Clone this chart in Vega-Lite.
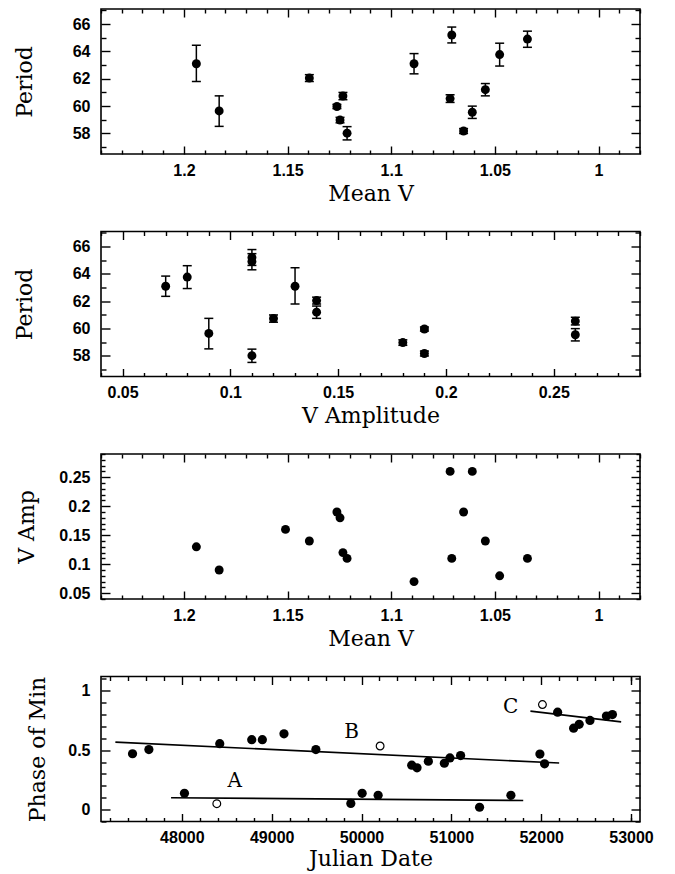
{
  "$schema": "https://vega.github.io/schema/vega-lite/v6.json",
  "padding": {"left": 12, "top": 7, "right": 5, "bottom": 0},
  "background": "white",
  "spacing": 77.5,
  "bounds": "flush",
  "config": {
    "view": {"stroke": "black", "strokeWidth": 1.6},
    "axis": {
      "labelFont": "Liberation Sans", "labelFontWeight": "bold", "labelFontSize": 16, "labelColor": "black",
      "titleFont": "DejaVu Serif", "titleFontWeight": "normal", "titleFontSize": 22, "titleColor": "black",
      "tickColor": "black", "tickWidth": 1.4, "grid": false, "domain": false,
      "labelOverlap": false, "labelFlush": false, "format": "~g"
    }
  },
  "datasets": {
    "stars": [
      {"mv": 1.194, "amp": 0.13, "P": 63.1, "Plo": 61.8, "Phi": 64.45},
      {"mv": 1.183, "amp": 0.09, "P": 59.65, "Plo": 58.52, "Phi": 60.75},
      {"mv": 1.151, "amp": 0.16, "P": null, "Plo": null, "Phi": null},
      {"mv": 1.1395, "amp": 0.14, "P": 62.05, "Plo": 61.8, "Phi": 62.3},
      {"mv": 1.1262, "amp": 0.19, "P": 59.97, "Plo": 59.82, "Phi": 60.12},
      {"mv": 1.1247, "amp": 0.18, "P": 58.98, "Plo": 58.78, "Phi": 59.18},
      {"mv": 1.1233, "amp": 0.12, "P": 60.74, "Plo": 60.47, "Phi": 61.0},
      {"mv": 1.1213, "amp": 0.11, "P": 58.02, "Plo": 57.53, "Phi": 58.5},
      {"mv": 1.089, "amp": 0.07, "P": 63.1, "Plo": 62.36, "Phi": 63.84},
      {"mv": 1.0708, "amp": 0.11, "P": 65.2, "Plo": 64.62, "Phi": 65.78},
      {"mv": 1.0716, "amp": 0.26, "P": 60.55, "Plo": 60.27, "Phi": 60.83},
      {"mv": 1.0651, "amp": 0.19, "P": 58.18, "Plo": 58.0, "Phi": 58.36},
      {"mv": 1.0609, "amp": 0.26, "P": 59.55, "Plo": 59.1, "Phi": 60.0},
      {"mv": 1.0546, "amp": 0.14, "P": 61.2, "Plo": 60.75, "Phi": 61.65},
      {"mv": 1.0477, "amp": 0.08, "P": 63.77, "Plo": 62.93, "Phi": 64.6},
      {"mv": 1.0343, "amp": 0.11, "P": 64.9, "Plo": 64.3, "Phi": 65.48}
    ],
    "phase": [
      {"jd": 47451, "ph": 0.47, "kind": "filled"},
      {"jd": 47633, "ph": 0.505, "kind": "filled"},
      {"jd": 48029, "ph": 0.137, "kind": "filled"},
      {"jd": 48422, "ph": 0.555, "kind": "filled"},
      {"jd": 48778, "ph": 0.588, "kind": "filled"},
      {"jd": 48896, "ph": 0.588, "kind": "filled"},
      {"jd": 49137, "ph": 0.638, "kind": "filled"},
      {"jd": 49492, "ph": 0.505, "kind": "filled"},
      {"jd": 49881, "ph": 0.052, "kind": "filled"},
      {"jd": 50007, "ph": 0.137, "kind": "filled"},
      {"jd": 50185, "ph": 0.12, "kind": "filled"},
      {"jd": 50559, "ph": 0.374, "kind": "filled"},
      {"jd": 50618, "ph": 0.352, "kind": "filled"},
      {"jd": 50744, "ph": 0.407, "kind": "filled"},
      {"jd": 50922, "ph": 0.39, "kind": "filled"},
      {"jd": 50984, "ph": 0.435, "kind": "filled"},
      {"jd": 51103, "ph": 0.455, "kind": "filled"},
      {"jd": 51314, "ph": 0.02, "kind": "filled"},
      {"jd": 51663, "ph": 0.12, "kind": "filled"},
      {"jd": 51986, "ph": 0.467, "kind": "filled"},
      {"jd": 52038, "ph": 0.385, "kind": "filled"},
      {"jd": 52183, "ph": 0.82, "kind": "filled"},
      {"jd": 52361, "ph": 0.685, "kind": "filled"},
      {"jd": 52423, "ph": 0.718, "kind": "filled"},
      {"jd": 52543, "ph": 0.75, "kind": "filled"},
      {"jd": 52726, "ph": 0.787, "kind": "filled"},
      {"jd": 52793, "ph": 0.8, "kind": "filled"},
      {"jd": 48389, "ph": 0.05, "kind": "open"},
      {"jd": 50207, "ph": 0.535, "kind": "open"},
      {"jd": 52014, "ph": 0.884, "kind": "open"}
    ],
    "fits": [
      {"jd": 47880, "ph": 0.1, "seg": "A"},
      {"jd": 51800, "ph": 0.077, "seg": "A"},
      {"jd": 47260, "ph": 0.568, "seg": "B"},
      {"jd": 52200, "ph": 0.392, "seg": "B"},
      {"jd": 51880, "ph": 0.829, "seg": "C"},
      {"jd": 52890, "ph": 0.738, "seg": "C"}
    ],
    "tags": [
      {"jd": 48589, "ph": 0.243, "txt": "A"},
      {"jd": 49889, "ph": 0.657, "txt": "B"},
      {"jd": 51660, "ph": 0.86, "txt": "C"}
    ]
  },
  "vconcat": [
    {
      "width": 539, "height": 145,
      "data": {"name": "stars"},
      "layer": [
        {
          "mark": {"type": "rule", "strokeWidth": 1.5, "color": "black"},
          "encoding": {
            "x": {"field": "mv", "type": "quantitative", "scale": {"domain": [0.98, 1.24], "reverse": true, "nice": false, "zero": false},
              "axis": {"orient": "bottom", "title": "Mean V", "values": [1.0, 1.05, 1.1, 1.15, 1.2], "tickSize": -8, "labelPadding": 16, "titleY": 46, "titleBaseline": "alphabetic"}},
            "y": {"field": "Plo", "type": "quantitative", "scale": {"domain": [56.5, 67.1], "nice": false, "zero": false},
              "axis": {"orient": "left", "title": "Period", "values": [58, 60, 62, 64, 66], "tickSize": -9, "labelPadding": 20, "titleX": -77, "titleBaseline": "middle"}},
            "y2": {"field": "Phi"}
          }
        },
        {
          "mark": {"type": "tick", "orient": "horizontal", "size": 9, "thickness": 1.5, "color": "black", "opacity": 1},
          "encoding": {
            "x": {"field": "mv", "type": "quantitative",
              "axis": {"orient": "bottom", "title": null, "labels": false, "values": [0.98,0.99,1.01,1.02,1.03,1.04,1.06,1.07,1.08,1.09,1.11,1.12,1.13,1.14,1.16,1.17,1.18,1.19,1.21,1.22,1.23,1.24], "tickSize": -4}},
            "y": {"field": "Plo", "type": "quantitative",
              "axis": {"orient": "left", "title": null, "labels": false, "values": [57, 59, 61, 63, 65, 67], "tickSize": -5}}
          }
        },
        {
          "mark": {"type": "tick", "orient": "horizontal", "size": 9, "thickness": 1.5, "color": "black", "opacity": 1},
          "encoding": {
            "x": {"field": "mv", "type": "quantitative",
              "axis": {"orient": "top", "title": null, "labels": false, "values": [1.0, 1.05, 1.1, 1.15, 1.2], "tickSize": -8}},
            "y": {"field": "Phi", "type": "quantitative",
              "axis": {"orient": "right", "title": null, "labels": false, "values": [58, 60, 62, 64, 66], "tickSize": -9}}
          }
        },
        {
          "mark": {"type": "circle", "size": 80, "color": "black", "opacity": 1},
          "encoding": {
            "x": {"field": "mv", "type": "quantitative",
              "axis": {"orient": "top", "title": null, "labels": false, "values": [0.98,0.99,1.01,1.02,1.03,1.04,1.06,1.07,1.08,1.09,1.11,1.12,1.13,1.14,1.16,1.17,1.18,1.19,1.21,1.22,1.23,1.24], "tickSize": -4}},
            "y": {"field": "P", "type": "quantitative",
              "axis": {"orient": "right", "title": null, "labels": false, "values": [57, 59, 61, 63, 65, 67], "tickSize": -5}}
          }
        }
      ],
      "resolve": {"axis": {"x": "independent", "y": "independent"}}
    },
    {
      "width": 539, "height": 145,
      "data": {"name": "stars"},
      "layer": [
        {
          "mark": {"type": "rule", "strokeWidth": 1.5, "color": "black"},
          "encoding": {
            "x": {"field": "amp", "type": "quantitative", "scale": {"domain": [0.04, 0.29], "nice": false, "zero": false},
              "axis": {"orient": "bottom", "title": "V Amplitude", "values": [0.05, 0.1, 0.15, 0.2, 0.25], "tickSize": -8, "labelPadding": 16, "titleY": 46, "titleBaseline": "alphabetic"}},
            "y": {"field": "Plo", "type": "quantitative", "scale": {"domain": [56.5, 67.1], "nice": false, "zero": false},
              "axis": {"orient": "left", "title": "Period", "values": [58, 60, 62, 64, 66], "tickSize": -9, "labelPadding": 20, "titleX": -77, "titleBaseline": "middle"}},
            "y2": {"field": "Phi"}
          }
        },
        {
          "mark": {"type": "tick", "orient": "horizontal", "size": 9, "thickness": 1.5, "color": "black", "opacity": 1},
          "encoding": {
            "x": {"field": "amp", "type": "quantitative",
              "axis": {"orient": "bottom", "title": null, "labels": false, "values": [0.04,0.06,0.07,0.08,0.09,0.11,0.12,0.13,0.14,0.16,0.17,0.18,0.19,0.21,0.22,0.23,0.24,0.26,0.27,0.28,0.29], "tickSize": -4}},
            "y": {"field": "Plo", "type": "quantitative",
              "axis": {"orient": "left", "title": null, "labels": false, "values": [57, 59, 61, 63, 65, 67], "tickSize": -5}}
          }
        },
        {
          "mark": {"type": "tick", "orient": "horizontal", "size": 9, "thickness": 1.5, "color": "black", "opacity": 1},
          "encoding": {
            "x": {"field": "amp", "type": "quantitative",
              "axis": {"orient": "top", "title": null, "labels": false, "values": [0.05, 0.1, 0.15, 0.2, 0.25], "tickSize": -8}},
            "y": {"field": "Phi", "type": "quantitative",
              "axis": {"orient": "right", "title": null, "labels": false, "values": [58, 60, 62, 64, 66], "tickSize": -9}}
          }
        },
        {
          "mark": {"type": "circle", "size": 80, "color": "black", "opacity": 1},
          "encoding": {
            "x": {"field": "amp", "type": "quantitative",
              "axis": {"orient": "top", "title": null, "labels": false, "values": [0.04,0.06,0.07,0.08,0.09,0.11,0.12,0.13,0.14,0.16,0.17,0.18,0.19,0.21,0.22,0.23,0.24,0.26,0.27,0.28,0.29], "tickSize": -4}},
            "y": {"field": "P", "type": "quantitative",
              "axis": {"orient": "right", "title": null, "labels": false, "values": [57, 59, 61, 63, 65, 67], "tickSize": -5}}
          }
        }
      ],
      "resolve": {"axis": {"x": "independent", "y": "independent"}}
    },
    {
      "width": 539, "height": 145,
      "data": {"name": "stars"},
      "layer": [
        {
          "mark": {"type": "circle", "size": 80, "color": "black", "opacity": 1},
          "encoding": {
            "x": {"field": "mv", "type": "quantitative", "scale": {"domain": [0.98, 1.24], "reverse": true, "nice": false, "zero": false},
              "axis": {"orient": "bottom", "title": "Mean V", "values": [1.0, 1.05, 1.1, 1.15, 1.2], "tickSize": -8, "labelPadding": 16, "titleY": 46, "titleBaseline": "alphabetic"}},
            "y": {"field": "amp", "type": "quantitative", "scale": {"domain": [0.04, 0.29], "nice": false, "zero": false},
              "axis": {"orient": "left", "title": "V Amp", "values": [0.05, 0.1, 0.15, 0.2, 0.25], "tickSize": -9, "labelPadding": 20, "titleX": -75, "titleBaseline": "middle"}}
          }
        },
        {
          "mark": {"type": "circle", "size": 80, "color": "black", "opacity": 0},
          "encoding": {
            "x": {"field": "mv", "type": "quantitative",
              "axis": {"orient": "bottom", "title": null, "labels": false, "values": [0.98,0.99,1.01,1.02,1.03,1.04,1.06,1.07,1.08,1.09,1.11,1.12,1.13,1.14,1.16,1.17,1.18,1.19,1.21,1.22,1.23,1.24], "tickSize": -4}},
            "y": {"field": "amp", "type": "quantitative",
              "axis": {"orient": "left", "title": null, "labels": false, "values": [0.04,0.06,0.07,0.08,0.09,0.11,0.12,0.13,0.14,0.16,0.17,0.18,0.19,0.21,0.22,0.23,0.24,0.26,0.27,0.28,0.29], "tickSize": -4}}
          }
        },
        {
          "mark": {"type": "circle", "size": 80, "color": "black", "opacity": 0},
          "encoding": {
            "x": {"field": "mv", "type": "quantitative",
              "axis": {"orient": "top", "title": null, "labels": false, "values": [1.0, 1.05, 1.1, 1.15, 1.2], "tickSize": -8}},
            "y": {"field": "amp", "type": "quantitative",
              "axis": {"orient": "right", "title": null, "labels": false, "values": [0.05, 0.1, 0.15, 0.2, 0.25], "tickSize": -9}}
          }
        },
        {
          "mark": {"type": "circle", "size": 80, "color": "black", "opacity": 0},
          "encoding": {
            "x": {"field": "mv", "type": "quantitative",
              "axis": {"orient": "top", "title": null, "labels": false, "values": [0.98,0.99,1.01,1.02,1.03,1.04,1.06,1.07,1.08,1.09,1.11,1.12,1.13,1.14,1.16,1.17,1.18,1.19,1.21,1.22,1.23,1.24], "tickSize": -4}},
            "y": {"field": "amp", "type": "quantitative",
              "axis": {"orient": "right", "title": null, "labels": false, "values": [0.04,0.06,0.07,0.08,0.09,0.11,0.12,0.13,0.14,0.16,0.17,0.18,0.19,0.21,0.22,0.23,0.24,0.26,0.27,0.28,0.29], "tickSize": -4}}
          }
        }
      ],
      "resolve": {"axis": {"x": "independent", "y": "independent"}}
    },
    {
      "width": 539, "height": 145,
      "layer": [
        {
          "data": {"name": "fits"},
          "mark": {"type": "line", "strokeWidth": 1.6, "color": "black"},
          "encoding": {
            "x": {"field": "jd", "type": "quantitative", "scale": {"domain": [47100, 53100], "nice": false, "zero": false},
              "axis": {"orient": "bottom", "title": "Julian Date", "format": "d", "values": [48000, 49000, 50000, 51000, 52000, 53000], "tickSize": -8, "labelPadding": 16, "titleY": 44, "titleBaseline": "alphabetic"}},
            "y": {"field": "ph", "type": "quantitative", "scale": {"domain": [-0.1, 1.12], "nice": false, "zero": false},
              "axis": {"orient": "left", "title": "Phase of Min", "values": [0, 0.5, 1], "tickSize": -9, "labelPadding": 20, "titleX": -64, "titleBaseline": "middle"}},
            "detail": {"field": "seg"}
          }
        },
        {
          "data": {"name": "phase"},
          "transform": [{"filter": "datum.kind == 'filled'"}],
          "mark": {"type": "circle", "size": 85, "color": "black", "opacity": 1},
          "encoding": {
            "x": {"field": "jd", "type": "quantitative",
              "axis": {"orient": "bottom", "title": null, "labels": false, "values": [47200,47400,47600,47800,48200,48400,48600,48800,49200,49400,49600,49800,50200,50400,50600,50800,51200,51400,51600,51800,52200,52400,52600,52800,53000], "tickSize": -4}},
            "y": {"field": "ph", "type": "quantitative",
              "axis": {"orient": "left", "title": null, "labels": false, "values": [-0.1, 0.1, 0.2, 0.3, 0.4, 0.6, 0.7, 0.8, 0.9, 1.1], "tickSize": -5}}
          }
        },
        {
          "data": {"name": "phase"},
          "transform": [{"filter": "datum.kind == 'open'"}],
          "mark": {"type": "point", "shape": "circle", "size": 60, "filled": false, "stroke": "black", "strokeWidth": 1.2, "opacity": 1},
          "encoding": {
            "x": {"field": "jd", "type": "quantitative",
              "axis": {"orient": "top", "title": null, "labels": false, "values": [48000, 49000, 50000, 51000, 52000, 53000], "tickSize": -8}},
            "y": {"field": "ph", "type": "quantitative",
              "axis": {"orient": "right", "title": null, "labels": false, "values": [0, 0.5, 1], "tickSize": -9}}
          }
        },
        {
          "data": {"name": "tags"},
          "mark": {"type": "text", "font": "DejaVu Serif", "fontSize": 20, "color": "black", "baseline": "middle", "align": "center"},
          "encoding": {
            "x": {"field": "jd", "type": "quantitative",
              "axis": {"orient": "top", "title": null, "labels": false, "values": [47200,47400,47600,47800,48200,48400,48600,48800,49200,49400,49600,49800,50200,50400,50600,50800,51200,51400,51600,51800,52200,52400,52600,52800,53000], "tickSize": -4}},
            "y": {"field": "ph", "type": "quantitative",
              "axis": {"orient": "right", "title": null, "labels": false, "values": [-0.1, 0.1, 0.2, 0.3, 0.4, 0.6, 0.7, 0.8, 0.9, 1.1], "tickSize": -5}},
            "text": {"field": "txt"}
          }
        }
      ],
      "resolve": {"axis": {"x": "independent", "y": "independent"}}
    }
  ]
}
